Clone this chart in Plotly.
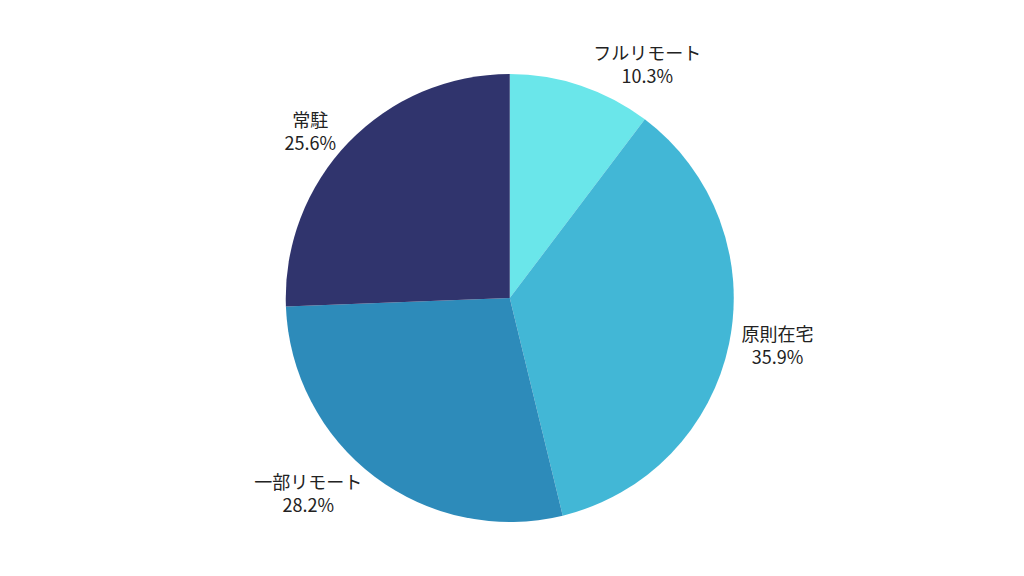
import plotly.graph_objects as go

# --------------------------------------------
# DATA
# --------------------------------------------
labels = ["フルリモート", "原則在宅", "一部リモート", "常駐"]
values = [10.3, 35.9, 28.2, 25.6]
colors = ["#6ae6ea", "#42b7d6", "#2d8bba", "#30346d"]

# --------------------------------------------
# PIE
# --------------------------------------------
fig = go.Figure(
    go.Pie(
        labels=labels,
        values=values,
        sort=False,
        direction="clockwise",
        rotation=0,
        domain=dict(x=[0.19, 0.79], y=[0, 1]),
        marker=dict(colors=colors, line=dict(width=0)),
        textinfo="label+percent",
        textposition="outside",
        texttemplate="%{label}<br>%{percent:.1%}",
        outsidetextfont=dict(size=18, color="#222222"),
        showlegend=False,
        hoverinfo="label+percent",
    )
)

fig.update_layout(
    width=1024,
    height=576,
    margin=dict(l=0, r=0, t=66, b=62),
    font=dict(family="Noto Sans CJK JP, Noto Sans, sans-serif", size=18, color="#222222"),
    paper_bgcolor="white",
    plot_bgcolor="white",
)

fig.write_html("out.html")
